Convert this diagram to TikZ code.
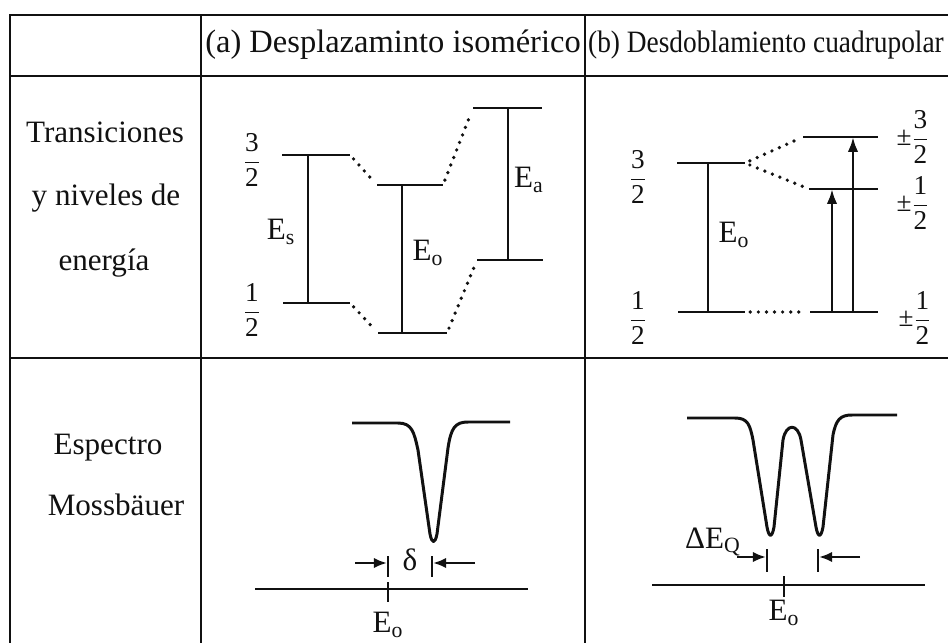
\documentclass[tikz,border=0pt]{standalone}
\usepackage{fontspec}
\setmainfont{Liberation Serif}
\usetikzlibrary{arrows.meta}
\definecolor{mbink}{HTML}{111111}
\tikzset{
  mbgrid/.style={draw=mbink, line width=1.7pt},
  mblevel/.style={draw=mbink, line width=1.7pt},
  mbdots/.style={
    draw=mbink, line width=2.1pt, line cap=round,
    dash pattern=on 0pt off 4.6pt, shorten <=3pt, shorten >=3pt},
  mbarrow/.style={-{Latex[length=8.5pt, width=6pt]}, draw=mbink, line width=1.6pt},
  mbdim/.style={-{Latex[length=7.5pt, width=6pt]}, draw=mbink, line width=1.5pt},
  mbcurve/.style={draw=mbink, line width=1.7pt, line join=round},
  mblabel/.style={font=\fontsize{17.7}{21}\selectfont, text=mbink, inner sep=0pt},
  mbfrac/.style={font=\fontsize{15.5}{18}\selectfont, text=mbink, inner sep=0pt},
}

\begin{document}
\begin{tikzpicture}[x=0.02cm, y=-0.02cm]
\useasboundingbox (0,0) rectangle (948,643);

% Table grid.
\draw[mbgrid] (9,15) -- (948,15);
\draw[mbgrid] (9,76) -- (948,76);
\draw[mbgrid] (9,358) -- (948,358);
\foreach \x in {10,201,585} {
  \draw[mbgrid] (\x,14) -- (\x,643);
}

% Column heads.
\node[mblabel, font=\fontsize{18.5}{22}\selectfont] (headshift) at (393,45)
  {(a) Desplazaminto isomérico};
\node[mblabel] (headsplit) at (766,45)
  {\scalebox{0.88}[1]{(b) Desdoblamiento cuadrupolar}};

% Row heads.
\node[mblabel] (rowlevelsa) at (105,132) {Transiciones};
\node[mblabel] (rowlevelsb) at (106,198) {y niveles de};
\node[mblabel] (rowlevelsc) at (104,263) {energía};
\node[mblabel] (rowspeca) at (108,448) {Espectro};
\node[mblabel] (rowspecb) at (116,505) {Mossbäuer};

% (a) levels: source, reference, absorber.
\draw[mblevel] (282,155) coordinate (sHiL) -- (350,155) coordinate (sHiR);
\draw[mblevel] (283,303) coordinate (sLoL) -- (350,303) coordinate (sLoR);
\draw[mblevel] (377,185) coordinate (oHiL) -- (443,185) coordinate (oHiR);
\draw[mblevel] (378,333) coordinate (oLoL) -- (447,333) coordinate (oLoR);
\draw[mblevel] (473,108) coordinate (aHiL) -- (542,108) coordinate (aHiR);
\draw[mblevel] (477,260) coordinate (aLoL) -- (543,260) coordinate (aLoR);
\draw[mbdots] (sHiR) -- (oHiL);
\draw[mbdots] (sLoR) -- (oLoL);
\draw[mbdots] (oHiR) -- (aHiL);
\draw[mbdots] (oLoR) -- (aLoL);
\draw[mblevel] (308,155) -- (308,303);
\draw[mblevel] (402,185) -- (402,333);
\draw[mblevel] (508,108) -- (508,260);
\node[mbfrac] (spina3) at (252,160) {$\displaystyle\frac{\mbox{3}}{\mbox{2}}$};
\node[mbfrac] (spina1) at (252,310) {$\displaystyle\frac{\mbox{1}}{\mbox{2}}$};
\node[mblabel] (labsource) at (281,232) {E$_\mathrm{s}$};
\node[mblabel] (labzeroa) at (428,253) {E$_\mathrm{o}$};
\node[mblabel] (lababsorb) at (529,180) {E$_\mathrm{a}$};

% (b) levels split by the field gradient.
\draw[mblevel] (677,163) coordinate (bHiL) -- (745,163) coordinate (bHiR);
\draw[mblevel] (678,312) coordinate (bLoL) -- (745,312) coordinate (bLoR);
\draw[mblevel] (803,137) coordinate (qThL) -- (878,137) coordinate (qThR);
\draw[mblevel] (809,189) coordinate (qOnL) -- (878,189) coordinate (qOnR);
\draw[mblevel] (810,312) coordinate (qLoL) -- (878,312) coordinate (qLoR);
\draw[mbdots] (bHiR) -- (qThL);
\draw[mbdots] (bHiR) -- (qOnL);
\draw[mbdots] (bLoR) -- (qLoL);
\draw[mblevel] (708,163) -- (708,312);
\draw[mbarrow] (832,312) -- (832,189);
\draw[mbarrow] (853,312) -- (853,137);
\node[mbfrac] (spinb3) at (638,177) {$\displaystyle\frac{\mbox{3}}{\mbox{2}}$};
\node[mbfrac] (spinb1) at (638,318) {$\displaystyle\frac{\mbox{1}}{\mbox{2}}$};
\node[mblabel] (labzerob) at (734,235) {E$_\mathrm{o}$};
\node[mbfrac] (spinq3) at (913,137) {$\displaystyle\mbox{±}\frac{\mbox{3}}{\mbox{2}}$};
\node[mbfrac] (spinq1) at (913,203) {$\displaystyle\mbox{±}\frac{\mbox{1}}{\mbox{2}}$};
\node[mbfrac] (spinq0) at (915,318) {$\displaystyle\mbox{±}\frac{\mbox{1}}{\mbox{2}}$};

% (a) spectrum: one shifted line.
\draw[mbcurve] (352,423) -- (398,423)
  .. controls (412,423) and (414,432) .. (418,450) -- (430,534)
  .. controls (432,544) and (435,544) .. (437,534) -- (448,448)
  .. controls (451,428) and (455,422) .. (468,422) -- (510,422);
\draw[mbgrid, line width=1.5pt] (255,589) -- (528,589);
\draw[mblevel, line width=1.4pt] (388,582) -- (388,602);
\draw[mblevel, line width=1.4pt] (388,556) coordinate (shL) -- (388,577);
\draw[mblevel, line width=1.4pt] (432,556) coordinate (shR) -- (432,577);
\coordinate (shLin) at (355,563);
\coordinate (shLat) at (387,563);
\coordinate (shRin) at (475,563);
\coordinate (shRat) at (433,563);
\draw[mbdim] (shLin) -- (shLat);
\draw[mbdim] (shRin) -- (shRat);
\node[mblabel] (labdelta) at (410,560) {δ};
\node[mblabel] (labaxisa) at (388,625) {E$_\mathrm{o}$};

% (b) spectrum: the doublet.
\draw[mbcurve] (687,418) -- (735,418)
  .. controls (748,418) and (750,425) .. (753,440) -- (767,527)
  .. controls (769,538) and (772,538) .. (774,527) -- (783,440)
  .. controls (786,423) and (798,423) .. (801,440) -- (816,527)
  .. controls (818,538) and (821,538) .. (823,527) -- (833,435)
  .. controls (836,420) and (840,415) .. (852,415) -- (897,415);
\draw[mbgrid, line width=1.5pt] (652,585) -- (925,585);
\draw[mblevel, line width=1.4pt] (784,576) -- (784,597);
\draw[mblevel, line width=1.4pt] (767,549) -- (767,572);
\draw[mblevel, line width=1.4pt] (818,549) -- (818,572);
\coordinate (sqLin) at (737,557);
\coordinate (sqLat) at (766,557);
\coordinate (sqRin) at (860,557);
\coordinate (sqRat) at (819,557);
\draw[mbdim] (sqLin) -- (sqLat);
\draw[mbdim] (sqRin) -- (sqRat);
\node[mblabel] (labquad) at (713,542) {ΔE$_\mathrm{Q}$};
\node[mblabel] (labaxisb) at (784,613) {E$_\mathrm{o}$};

\end{tikzpicture}
\end{document}
